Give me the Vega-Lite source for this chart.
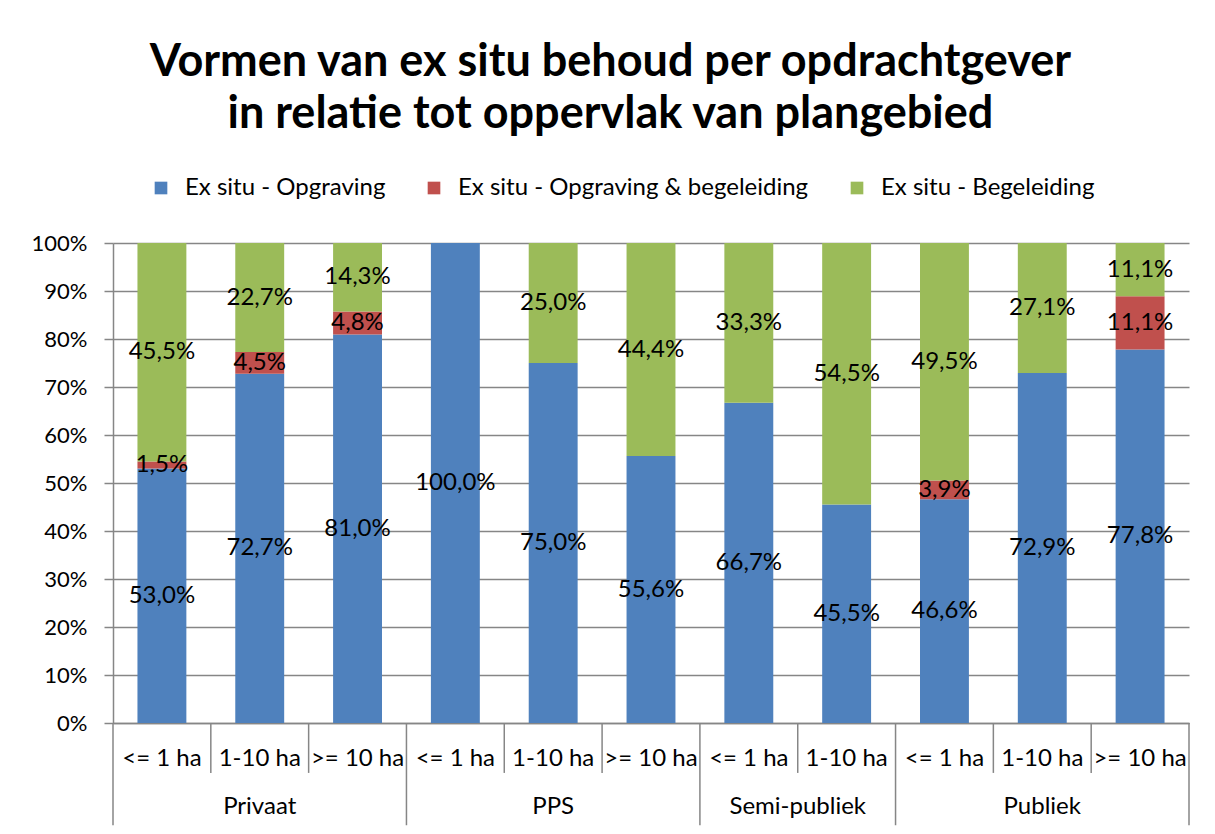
{
  "$schema": "https://vega.github.io/schema/vega-lite/v6.json",
  "padding": {"left": 31, "top": 40, "right": 5, "bottom": 5},
  "background": "white",
  "width": 1076,
  "height": 480,
  "title": {
    "text": ["Vormen van ex situ behoud per opdrachtgever", "in relatie tot oppervlak van plangebied"],
    "font": "Lato",
    "fontSize": 45,
    "fontWeight": "bold",
    "lineHeight": 52,
    "color": "black",
    "anchor": "middle",
    "frame": "bounds",
    "offset": 39
  },
  "data": {
    "values": [
      {"grp": "Privaat", "size": "<= 1 ha", "serie": "Ex situ - Opgraving", "v": 0.530},
      {"grp": "Privaat", "size": "<= 1 ha", "serie": "Ex situ - Opgraving & begeleiding", "v": 0.015},
      {"grp": "Privaat", "size": "<= 1 ha", "serie": "Ex situ - Begeleiding", "v": 0.455},
      {"grp": "Privaat", "size": "1-10 ha", "serie": "Ex situ - Opgraving", "v": 0.727},
      {"grp": "Privaat", "size": "1-10 ha", "serie": "Ex situ - Opgraving & begeleiding", "v": 0.045},
      {"grp": "Privaat", "size": "1-10 ha", "serie": "Ex situ - Begeleiding", "v": 0.227},
      {"grp": "Privaat", "size": ">= 10 ha", "serie": "Ex situ - Opgraving", "v": 0.810},
      {"grp": "Privaat", "size": ">= 10 ha", "serie": "Ex situ - Opgraving & begeleiding", "v": 0.048},
      {"grp": "Privaat", "size": ">= 10 ha", "serie": "Ex situ - Begeleiding", "v": 0.143},
      {"grp": "PPS", "size": "<= 1 ha", "serie": "Ex situ - Opgraving", "v": 1.000},
      {"grp": "PPS", "size": "1-10 ha", "serie": "Ex situ - Opgraving", "v": 0.750},
      {"grp": "PPS", "size": "1-10 ha", "serie": "Ex situ - Begeleiding", "v": 0.250},
      {"grp": "PPS", "size": ">= 10 ha", "serie": "Ex situ - Opgraving", "v": 0.556},
      {"grp": "PPS", "size": ">= 10 ha", "serie": "Ex situ - Begeleiding", "v": 0.444},
      {"grp": "Semi-publiek", "size": "<= 1 ha", "serie": "Ex situ - Opgraving", "v": 0.667},
      {"grp": "Semi-publiek", "size": "<= 1 ha", "serie": "Ex situ - Begeleiding", "v": 0.333},
      {"grp": "Semi-publiek", "size": "1-10 ha", "serie": "Ex situ - Opgraving", "v": 0.455},
      {"grp": "Semi-publiek", "size": "1-10 ha", "serie": "Ex situ - Begeleiding", "v": 0.545},
      {"grp": "Publiek", "size": "<= 1 ha", "serie": "Ex situ - Opgraving", "v": 0.466},
      {"grp": "Publiek", "size": "<= 1 ha", "serie": "Ex situ - Opgraving & begeleiding", "v": 0.039},
      {"grp": "Publiek", "size": "<= 1 ha", "serie": "Ex situ - Begeleiding", "v": 0.495},
      {"grp": "Publiek", "size": "1-10 ha", "serie": "Ex situ - Opgraving", "v": 0.729},
      {"grp": "Publiek", "size": "1-10 ha", "serie": "Ex situ - Begeleiding", "v": 0.271},
      {"grp": "Publiek", "size": ">= 10 ha", "serie": "Ex situ - Opgraving", "v": 0.778},
      {"grp": "Publiek", "size": ">= 10 ha", "serie": "Ex situ - Opgraving & begeleiding", "v": 0.111},
      {"grp": "Publiek", "size": ">= 10 ha", "serie": "Ex situ - Begeleiding", "v": 0.111}
    ]
  },
  "transform": [
    {"calculate": "datum.grp + '|' + datum.size", "as": "key"},
    {"calculate": "indexof(['Ex situ - Opgraving', 'Ex situ - Opgraving & begeleiding', 'Ex situ - Begeleiding'], datum.serie)", "as": "ord"}
  ],
  "layer": [
    {
      "mark": {"type": "bar"},
      "encoding": {
        "x": {
          "field": "key",
          "type": "nominal",
          "sort": null,
          "scale": {"paddingInner": 0.5, "paddingOuter": 0.25},
          "title": null,
          "axis": {
            "labelExpr": "split(datum.label, '|')[1]",
            "labelAngle": 0,
            "labelFont": "Lato",
            "labelFontSize": 24,
            "labelColor": "black",
            "labelLimit": 200,
            "ticks": false,
            "domainColor": "#868686",
            "domainWidth": 1.5,
            "labelPadding": 23
          }
        },
        "y": {
          "field": "v",
          "type": "quantitative",
          "stack": "normalize",
          "scale": {"domain": [0, 1]},
          "title": null,
          "axis": {
            "values": [0, 0.1, 0.2, 0.3, 0.4, 0.5, 0.6, 0.7, 0.8, 0.9, 1],
            "format": "%",
            "labelFont": "Lato",
            "labelFontSize": 22,
            "labelColor": "black",
            "labelPadding": 17,
            "tickSize": 9,
            "tickColor": "#868686",
            "tickWidth": 1.5,
            "domainColor": "#868686",
            "domainWidth": 1.5,
            "grid": true,
            "gridColor": "#868686",
            "gridWidth": 1.5
          }
        },
        "color": {
          "field": "serie",
          "type": "nominal",
          "scale": {
            "domain": ["Ex situ - Opgraving", "Ex situ - Opgraving & begeleiding", "Ex situ - Begeleiding"],
            "range": ["#4F81BD", "#C0504D", "#9BBB59"]
          },
          "legend": {
            "title": null,
            "orient": "none",
            "legendX": 36,
            "legendY": -67,
            "direction": "horizontal",
            "labelFont": "Lato",
            "labelFontSize": 24,
            "labelColor": "black",
            "labelLimit": 500,
            "symbolType": "square",
            "symbolSize": 160,
            "symbolStrokeWidth": 0,
            "symbolOpacity": 1,
            "labelOffset": 12,
            "columnPadding": 36,
            "padding": 0
          }
        },
        "order": {"field": "ord", "type": "quantitative"}
      }
    },
    {
      "transform": [{"filter": "datum.v > 0"}],
      "mark": {"type": "text", "font": "Lato", "fontSize": 24, "color": "black"},
      "encoding": {
        "x": {"field": "key", "type": "nominal", "sort": null},
        "y": {"field": "v", "type": "quantitative", "stack": "normalize", "bandPosition": 0.5},
        "detail": {"field": "serie"},
        "order": {"field": "ord", "type": "quantitative"},
        "text": {"field": "v", "type": "quantitative", "format": ".1%"}
      }
    },
    {
      "transform": [{"filter": "datum.serie == 'Ex situ - Opgraving' && datum.size != '<= 1 ha'"}],
      "mark": {"type": "rule", "color": "#868686", "strokeWidth": 1.5},
      "encoding": {
        "x": {"field": "key", "type": "nominal", "sort": null, "bandPosition": -0.5},
        "y": {"datum": 0},
        "y2": {"datum": -0.104}
      }
    },
    {
      "transform": [{"filter": "datum.serie == 'Ex situ - Opgraving' && datum.size == '<= 1 ha'"}],
      "mark": {"type": "rule", "color": "#868686", "strokeWidth": 1.5},
      "encoding": {
        "x": {"field": "key", "type": "nominal", "sort": null, "bandPosition": -0.5},
        "y": {"datum": 0},
        "y2": {"datum": -0.213}
      }
    },
    {
      "transform": [{"filter": "datum.serie == 'Ex situ - Opgraving' && datum.grp == 'Publiek' && datum.size == '>= 10 ha'"}],
      "mark": {"type": "rule", "color": "#868686", "strokeWidth": 1.5},
      "encoding": {
        "x": {"field": "key", "type": "nominal", "sort": null, "bandPosition": 1.5},
        "y": {"datum": 0},
        "y2": {"datum": -0.213}
      }
    },
    {
      "transform": [{"filter": "datum.serie == 'Ex situ - Opgraving' && datum.grp != 'Semi-publiek' && datum.size == '1-10 ha'"}],
      "mark": {"type": "text", "font": "Lato", "fontSize": 24, "color": "black", "baseline": "middle"},
      "encoding": {
        "x": {"field": "key", "type": "nominal", "sort": null, "bandPosition": 0.5},
        "y": {"datum": -0.176},
        "text": {"field": "grp"}
      }
    },
    {
      "transform": [{"filter": "datum.serie == 'Ex situ - Opgraving' && datum.grp == 'Semi-publiek' && datum.size == '<= 1 ha'"}],
      "mark": {"type": "text", "font": "Lato", "fontSize": 24, "color": "black", "baseline": "middle"},
      "encoding": {
        "x": {"field": "key", "type": "nominal", "sort": null, "bandPosition": 1.5},
        "y": {"datum": -0.176},
        "text": {"field": "grp"}
      }
    }
  ],
  "config": {
    "locale": {"number": {"decimal": ",", "thousands": ".", "grouping": [3], "currency": ["€ ", ""]}},
    "view": {"stroke": null}
  }
}
